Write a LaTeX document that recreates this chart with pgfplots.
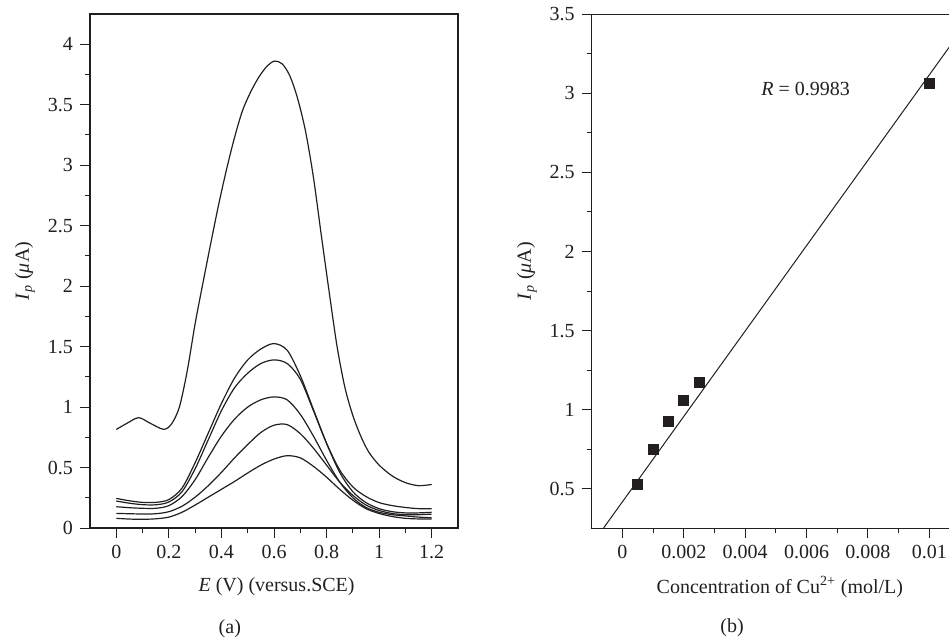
\documentclass[border=0pt]{standalone}
\usepackage{pgfplots}
\pgfplotsset{compat=1.18}
\usepackage{fontspec}
\setmainfont{Liberation Serif}
\definecolor{ink}{HTML}{231F20}
\begin{document}
\begin{tikzpicture}
\pgfplotsset{
  every axis/.append style={
    scale only axis, tick pos=left, tick align=outside,
    major tick length=5pt, minor tick length=2.5pt,
    axis line style={ink, line width=0.6pt},
    every tick/.style={ink, line width=0.5pt},
    /pgf/number format/assume math mode=true,
    clip mode=individual,
    tick label style={font=\fontsize{10}{12}\selectfont, text=ink},
    label style={font=\fontsize{10}{12}\selectfont, text=ink},
  }
}
\begin{axis}[
  at={(45pt,-264pt)}, anchor=south west,
  width=184pt, height=257pt,
  xmin=-0.1, xmax=1.3, ymin=0, ymax=4.25,
  xtick={0,0.2,...,1.2}, ytick={0,0.5,...,4},
  minor x tick num=1, minor y tick num=1,
  xlabel={\textit{E} (V) (versus.SCE)},
  ylabel={\textit{I}\textsubscript{\textit{p}} (\textit{μ}A)},
  xlabel style={at={(axis description cs:0.507,-0.114)}, anchor=center},
  ylabel style={at={(axis description cs:-0.177,0.5)}, anchor=center},
]
% highest concentration
\addplot[ink, line width=0.6pt, smooth] coordinates {
(0,0.815) (0.04,0.865) (0.085,0.912) (0.13,0.865) (0.18,0.816) (0.21,0.86)
(0.24,1.0) (0.27,1.3) (0.30,1.69) (0.33,2.03) (0.36,2.36) (0.39,2.68)
(0.42,2.97) (0.45,3.23) (0.48,3.45) (0.51,3.60) (0.54,3.72) (0.57,3.81)
(0.60,3.86) (0.63,3.84) (0.66,3.74) (0.69,3.55) (0.72,3.28) (0.75,2.90)
(0.78,2.42) (0.81,1.95) (0.84,1.50) (0.87,1.16) (0.90,0.93) (0.93,0.76)
(0.96,0.63) (1.0,0.52) (1.05,0.43) (1.1,0.375) (1.15,0.35) (1.2,0.36)};
% c1
\addplot[ink, line width=0.6pt, smooth] coordinates {
(0,0.245) (0.05,0.225) (0.1,0.212) (0.15,0.212) (0.2,0.235) (0.25,0.33)
(0.3,0.54) (0.35,0.785) (0.4,1.03) (0.45,1.24) (0.5,1.39) (0.55,1.48)
(0.6,1.525) (0.65,1.47) (0.7,1.26) (0.75,0.98) (0.8,0.70) (0.85,0.46)
(0.9,0.30) (0.95,0.21) (1.0,0.16) (1.05,0.135) (1.1,0.125) (1.15,0.125) (1.2,0.13)};
% c2
\addplot[ink, line width=0.6pt, smooth] coordinates {
(0,0.223) (0.05,0.205) (0.1,0.193) (0.15,0.192) (0.2,0.215) (0.25,0.30)
(0.3,0.49) (0.35,0.73) (0.4,0.97) (0.45,1.16) (0.5,1.28) (0.55,1.36)
(0.6,1.39) (0.65,1.36) (0.7,1.23) (0.75,0.97) (0.8,0.70) (0.85,0.48)
(0.9,0.34) (0.95,0.26) (1.0,0.21) (1.05,0.185) (1.1,0.17) (1.15,0.16) (1.2,0.16)};
% c3
\addplot[ink, line width=0.6pt, smooth] coordinates {
(0,0.176) (0.05,0.168) (0.1,0.163) (0.15,0.163) (0.2,0.185) (0.25,0.26)
(0.3,0.40) (0.35,0.585) (0.4,0.76) (0.45,0.90) (0.5,1.0) (0.55,1.06)
(0.6,1.084) (0.65,1.06) (0.7,0.94) (0.75,0.76) (0.8,0.56) (0.85,0.38)
(0.9,0.25) (0.95,0.17) (1.0,0.13) (1.05,0.11) (1.1,0.10) (1.15,0.09) (1.2,0.085)};
% c4
\addplot[ink, line width=0.6pt, smooth] coordinates {
(0,0.121) (0.05,0.118) (0.1,0.116) (0.15,0.118) (0.2,0.135) (0.25,0.18)
(0.3,0.255) (0.35,0.35) (0.4,0.46) (0.45,0.58) (0.5,0.69) (0.55,0.79)
(0.6,0.85) (0.65,0.855) (0.7,0.78) (0.75,0.66) (0.8,0.52) (0.85,0.38)
(0.9,0.27) (0.95,0.19) (1.0,0.145) (1.05,0.12) (1.1,0.11) (1.15,0.11) (1.2,0.115)};
% c5
\addplot[ink, line width=0.6pt, smooth] coordinates {
(0,0.08) (0.05,0.074) (0.1,0.072) (0.15,0.076) (0.2,0.09) (0.25,0.13)
(0.3,0.19) (0.35,0.255) (0.4,0.32) (0.45,0.385) (0.5,0.455) (0.55,0.52)
(0.6,0.57) (0.65,0.598) (0.7,0.58) (0.75,0.51) (0.8,0.42) (0.85,0.32)
(0.9,0.23) (0.95,0.16) (1.0,0.12) (1.05,0.095) (1.1,0.08) (1.15,0.075) (1.2,0.075)};
\node[font=\fontsize{10}{12}\selectfont, text=ink] at (axis description cs:0.38,-0.195) {(a)};
\end{axis}
\begin{axis}[
  at={(295.85pt,-264.15pt)}, anchor=south west,
  width=184.15pt, height=257pt,
  xmin=-0.001, xmax=0.011, ymin=0.25, ymax=3.5,
  xtick={0,0.002,0.004,0.006,0.008,0.01},
  xticklabels={0,0.002,0.004,0.006,0.008,0.01},
  scaled x ticks=false,
  ytick={0.5,1,...,3.5},
  minor x tick num=1, minor y tick num=1,
  xlabel={Concentration of Cu\textsuperscript{2+} (mol/L)},
  ylabel={\textit{I}\textsubscript{\textit{p}} (\textit{μ}A)},
  xlabel style={at={(axis description cs:0.511,-0.114)}, anchor=center},
  ylabel style={at={(axis description cs:-0.176,0.5)}, anchor=center},
  clip mode=global,
]
\addplot[ink, line width=0.5pt] coordinates {(-0.00062,0.25) (0.011,3.387)};
\addplot[only marks, mark=square*, mark size=2.5pt, mark options={fill=ink, draw=ink}] coordinates {
(0.0005,0.53) (0.001,0.75) (0.0015,0.927) (0.002,1.06) (0.0025,1.175) (0.01,3.063)};
\node[font=\fontsize{10}{12}\selectfont, text=ink, anchor=west] at (axis cs:0.0043,3.03) {\textit{R} = 0.9983};
\end{axis}
\node[font=\fontsize{10}{12}\selectfont, text=ink] at (366pt,-314pt) {(b)};
\pgfresetboundingbox
\useasboundingbox (0,0) rectangle (474.5pt,-319pt);
\end{tikzpicture}
\end{document}
